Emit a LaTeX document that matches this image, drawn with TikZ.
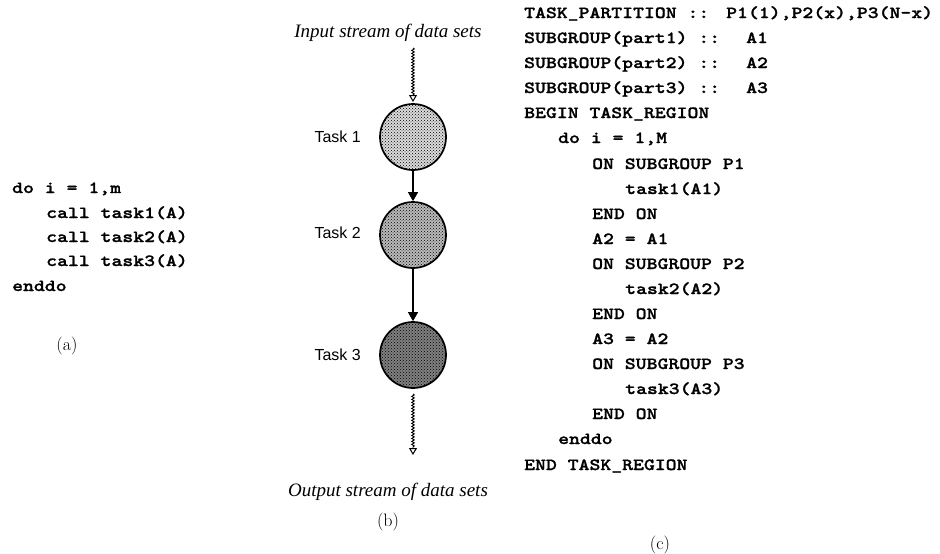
\documentclass[tikz,border=0pt]{standalone}
\usepackage{fontspec}
\newfontfamily\sansf{Liberation Sans}
\newfontfamily\seriff{Liberation Serif}
\newfontfamily\codef{lmmonolt10-bold.otf}[FakeStretch=1.22, FakeBold=1.2]
\usetikzlibrary{arrows.meta,decorations.pathmorphing,patterns}
\newcommand{\codefnt}{\fontsize{17}{17}\selectfont\codef}
\tikzset{
  code/.style={anchor=base west, inner sep=0pt, font=\codefnt},
  sublbl/.style={inner sep=0pt, font=\fontsize{18}{18}\selectfont},
  stream/.style={inner sep=0pt, font=\fontsize{19}{19}\selectfont\seriff\itshape},
  tasklbl/.style={inner sep=0pt, anchor=east, font=\fontsize{16}{16}\selectfont\sansf},
  taskc/.style={circle, draw, line width=1.7pt, minimum size=66pt, inner sep=0pt,
    preaction={fill=#1}, pattern=crosshatch dots, pattern color=black},
  flow/.style={line width=1.3pt, -{Triangle[width=10pt,length=9pt]}},
  wavy/.style={line width=0.9pt, decorate, decoration={snake, amplitude=1.3pt, segment length=3pt, post length=7pt},
    -{Triangle[open, width=8pt, length=7pt, line width=1pt]}}
}
\begin{document}
\begin{tikzpicture}[x=1pt,y=-1pt]
\useasboundingbox (0,0) rectangle (940,554);
% (a)
\node[code] (a0) at (12,193) {do~i~=~1,m};
\node[code] (a1) at (46,218) {call~task1(A)};
\node[code] (a2) at (46,242) {call~task2(A)};
\node[code] (a3) at (46,266) {call~task3(A)};
\node[code] (a4) at (12,291) {enddo};
\node[sublbl] (la) at (67,346) {(a)};
% (b)
\node[stream] (inp) at (388,33) {Input stream of data sets};
\node[taskc=black!14] (t1) at (413,137) {};
\node[taskc=black!27] (t2) at (413,235) {};
\node[taskc=black!50] (t3) at (413,355) {};
\node[tasklbl] (l1) at (361,137) {Task 1};
\node[tasklbl] (l2) at (361,233) {Task 2};
\node[tasklbl] (l3) at (361,355) {Task 3};
\coordinate (w1) at (413,48);
\coordinate (w2) at (413,102);
\coordinate (w3) at (413,394);
\coordinate (w4) at (413,455);
\draw[wavy] (w1) -- (w2);
\draw[flow] (t1) -- (t2);
\draw[flow] (t2) -- (t3);
\draw[wavy] (w3) -- (w4);
\node[stream] (outp) at (388,492) {Output stream of data sets};
\node[sublbl] (lb) at (388,522) {(b)};
% (c)
\node[code] (c0) at (524,18) {TASK\_PARTITION~::};
\node[code] (c0b) at (726,18) {P1(1),P2(x),P3(N-x)};
\node[code] (c1) at (524,43) {SUBGROUP(part1)~::};
\node[code] (c1b) at (746,43) {A1};
\node[code] (c2) at (524,68) {SUBGROUP(part2)~::};
\node[code] (c2b) at (746,68) {A2};
\node[code] (c3) at (524,93) {SUBGROUP(part3)~::};
\node[code] (c3b) at (746,93) {A3};
\node[code] (c4) at (524,118) {BEGIN~TASK\_REGION};
\node[code] (c5) at (558,143) {do~i~=~1,M};
\node[code] (c6) at (592,169) {ON~SUBGROUP~P1};
\node[code] (c7) at (625,194) {task1(A1)};
\node[code] (c8) at (592,219) {END~ON};
\node[code] (c9) at (592,244) {A2~=~A1};
\node[code] (c10) at (592,269) {ON~SUBGROUP~P2};
\node[code] (c11) at (625,294) {task2(A2)};
\node[code] (c12) at (592,319) {END~ON};
\node[code] (c13) at (592,344) {A3~=~A2};
\node[code] (c14) at (592,369) {ON~SUBGROUP~P3};
\node[code] (c15) at (625,394) {task3(A3)};
\node[code] (c16) at (592,419) {END~ON};
\node[code] (c17) at (558,444) {enddo};
\node[code] (c18) at (524,470) {END~TASK\_REGION};
\node[sublbl] (lc) at (660,545) {(c)};
\end{tikzpicture}
\end{document}
